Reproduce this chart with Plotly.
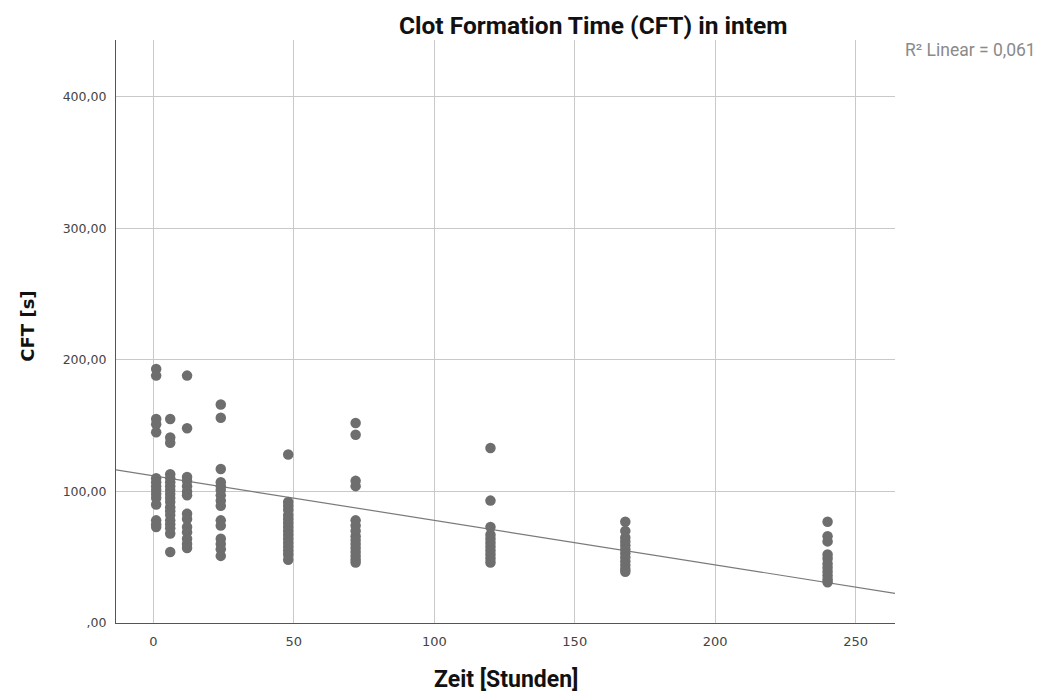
import plotly.graph_objects as go

# Measurement times (hours) and CFT values (s) per time point
times = [1, 6, 12, 24, 48, 72, 120, 168, 240]
cft_t1 = [193, 188, 155, 151, 145, 110, 107, 104, 101, 98, 95, 90, 78, 75, 73]
cft_t6 = [155, 141, 137, 113, 110, 107, 104, 101, 98, 95, 92, 88, 85, 82, 78, 75, 72, 68, 54]
cft_t12 = [188, 148, 111, 108, 104, 100, 97, 83, 79, 73, 69, 64, 60, 57]
cft_t24 = [166, 156, 117, 107, 104, 101, 97, 93, 89, 78, 74, 64, 60, 56, 51]
cft_t48 = [128, 92, 89, 86, 82, 79, 76, 73, 70, 67, 64, 61, 58, 55, 52, 48]
cft_t72 = [152, 143, 108, 104, 78, 74, 70, 66, 63, 60, 57, 54, 51, 48, 46]
cft_t120 = [133, 93, 73, 67, 64, 61, 58, 55, 52, 49, 46]
cft_t168 = [77, 70, 65, 62, 59, 56, 53, 50, 47, 44, 41, 39]
cft_t240 = [77, 66, 62, 52, 49, 45, 42, 39, 36, 33, 31]
cft_groups = [cft_t1, cft_t6, cft_t12, cft_t24, cft_t48, cft_t72, cft_t120, cft_t168, cft_t240]

# Linear fit (intercept, slope) and its R²
fit_intercept = 111.8
fit_slope = -0.338
r2_label = "R² Linear = 0,061"

x_ticks = [0, 50, 100, 150, 200, 250]
y_ticks = [0, 100, 200, 300, 400]
y_tick_text = [",00", "100,00", "200,00", "300,00", "400,00"]

x_range = [-13.3, 264.0]
y_range = [0, 443]

xs, ys = [], []
for t, vals in zip(times, cft_groups):
    xs.extend([t] * len(vals))
    ys.extend(vals)

fit_x = list(x_range)
fit_y = [fit_intercept + fit_slope * v for v in fit_x]

fig = go.Figure()
fig.add_trace(go.Scatter(
    x=fit_x, y=fit_y, mode="lines",
    line=dict(color="#7a7a7a", width=1.2),
    hoverinfo="skip", showlegend=False,
))
fig.add_trace(go.Scatter(
    x=xs, y=ys, mode="markers",
    marker=dict(color="#6e6e6e", size=10.5, line=dict(width=0)),
    showlegend=False,
))

fig.update_layout(
    width=1039, height=697,
    margin=dict(l=116, r=144, t=40, b=74),
    paper_bgcolor="white", plot_bgcolor="white",
    title=dict(
        text="<b>Clot Formation Time (CFT) in intem</b>",
        xref="container", x=0.571, xanchor="center",
        yref="container", y=0.964, yanchor="middle",
        font=dict(family="Roboto", size=24.5, color="#111111"),
    ),
    xaxis=dict(
        range=x_range, tickvals=x_ticks, ticks="",
        showgrid=True, gridcolor="#c9c9c9", gridwidth=1.2,
        zeroline=False, showline=True, linecolor="#555555", linewidth=1.2,
        tickfont=dict(family="DejaVu Sans", size=13, color="#444444"),
        ticklabelstandoff=6,
    ),
    yaxis=dict(
        range=y_range, tickvals=y_ticks, ticktext=y_tick_text, ticks="",
        showgrid=True, gridcolor="#c9c9c9", gridwidth=1.2,
        zeroline=False, showline=True, linecolor="#555555", linewidth=1.2,
        tickfont=dict(family="DejaVu Sans", size=12.5, color="#444444"),
        ticklabelstandoff=6,
    ),
    annotations=[
        dict(text="<b>Zeit [Stunden]</b>", xref="paper", yref="paper",
             x=0.5, y=-0.097, xanchor="center", yanchor="middle",
             showarrow=False, font=dict(family="Roboto", size=23, color="#111111")),
        dict(text="<b>CFT [s]</b>", xref="paper", yref="paper",
             x=-0.113, y=0.51, xanchor="center", yanchor="middle", textangle=-90,
             showarrow=False, font=dict(family="DejaVu Sans", size=18, color="#111111")),
        dict(text=r2_label, xref="paper", yref="paper",
             x=1.01, y=0.983, xanchor="left", yanchor="middle",
             showarrow=False, font=dict(family="Roboto", size=17.5, color="#8a8a8a")),
    ],
)

fig.write_html("out.html")
